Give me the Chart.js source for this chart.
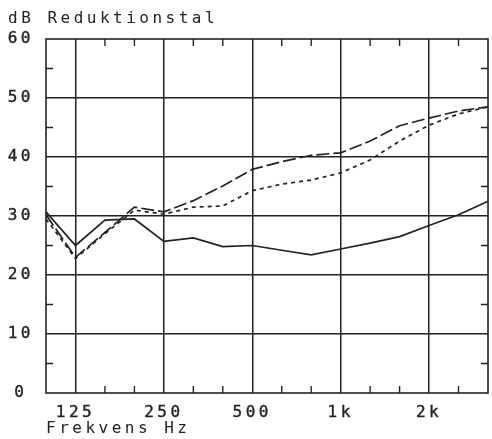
<!DOCTYPE html>
<html>
<head>
<meta charset="utf-8">
<script src="https://cdn.jsdelivr.net/npm/chart.js@4/dist/chart.umd.min.js"></script>
<style>
  html, body { margin: 0; padding: 0; background: #ffffff; }
  canvas { display: block; }
</style>
</head>
<body>
<canvas id="chart" width="492" height="439"></canvas>
<script>
// Third-octave band centre frequencies (Hz)
const bandHz = [100, 125, 160, 200, 250, 315, 400, 500, 630, 800, 1000, 1250, 1600, 2000, 2500, 3150];
// Octave bands that carry a label and a full grid line
const labelledHz = [125, 250, 500, 1000, 2000];
const tickLabels = ['125', '250', '500', '1k', '2k'];

// Sound reduction index, dB
const reductionSolid  = [30.7, 25.0, 29.3, 29.5, 25.7, 26.3, 24.8, 25.0, 24.2, 23.4, 24.4, 25.4, 26.5, 28.4, 30.2, 32.5];
const reductionDashed = [30.2, 23.0, 27.2, 31.5, 30.7, 32.6, 35.1, 37.9, 39.2, 40.3, 40.7, 42.7, 45.3, 46.6, 47.8, 48.5];
const reductionDotted = [29.5, 22.8, 27.0, 31.0, 30.3, 31.5, 31.7, 34.3, 35.4, 36.1, 37.3, 39.5, 42.7, 45.4, 47.3, 48.5];

const INK = '#222222';
const FONT = "'DejaVu Sans Mono', 'Liberation Mono', monospace";
const TRACK = '3.5px';

// Plotter-style wide lettering
const spacing = {
  id: 'spacing',
  beforeLayout(chart) { chart.ctx.letterSpacing = TRACK; },
  beforeDraw(chart) { chart.ctx.letterSpacing = TRACK; }
};

// Frame around the plot plus short inward ticks at every third-octave and every 5 dB
const frame = {
  id: 'frame',
  beforeDatasetsDraw(chart) {
    const { ctx, chartArea: a, scales: { x, y } } = chart;
    ctx.save();
    ctx.strokeStyle = INK;
    ctx.lineWidth = 1.6;
    ctx.strokeRect(a.left, a.top, a.right - a.left, a.bottom - a.top);
    ctx.lineWidth = 1.4;
    ctx.beginPath();
    bandHz.forEach((hz, i) => {
      if (labelledHz.includes(hz) || i === 0 || i === bandHz.length - 1) return;
      const px = x.getPixelForValue(i);
      ctx.moveTo(px, a.bottom); ctx.lineTo(px, a.bottom - 7);
      ctx.moveTo(px, a.top);    ctx.lineTo(px, a.top + 7);
    });
    for (let v = 5; v < 60; v += 10) {
      const py = y.getPixelForValue(v);
      ctx.moveTo(a.left, py);  ctx.lineTo(a.left + 7, py);
      ctx.moveTo(a.right, py); ctx.lineTo(a.right - 7, py);
    }
    ctx.stroke();
    ctx.restore();
  }
};

const line = (data, dash) => ({
  data,
  borderColor: INK,
  borderWidth: 1.7,
  borderDash: dash,
  pointRadius: 0,
  tension: 0,
  fill: false
});

new Chart(document.getElementById('chart'), {
  type: 'line',
  data: {
    labels: bandHz.map(String),
    datasets: [
      line(reductionSolid, []),
      line(reductionDashed, [13, 4]),
      line(reductionDotted, [4, 4])
    ]
  },
  options: {
    responsive: false,
    devicePixelRatio: 1,
    animation: false,
    layout: { padding: { left: 8, right: 4, top: 0, bottom: 0 } },
    plugins: {
      legend: { display: false },
      tooltip: { enabled: false },
      title: {
        display: true,
        text: 'dB Reduktionstal',
        align: 'start',
        color: INK,
        font: { family: FONT, size: 16, weight: 'normal', lineHeight: 1.25 },
        padding: { top: 9, bottom: 10 }
      }
    },
    scales: {
      x: {
        type: 'category',
        offset: false,
        afterFit(s) { s.height = 46; s.paddingLeft = 0; s.paddingRight = 0; },
        border: { display: false },
        grid: {
          offset: false,
          drawTicks: false,
          lineWidth: 1.5,
          color: c => {
            const hz = bandHz[c.index];
            return labelledHz.includes(hz) && c.index > 0 ? INK : 'rgba(0,0,0,0)';
          }
        },
        ticks: {
          autoSkip: false,
          maxRotation: 0,
          padding: 10,
          color: INK,
          textStrokeColor: INK,
          textStrokeWidth: 0.4,
          font: { family: FONT, size: 16 },
          callback(value, index) {
            const k = labelledHz.indexOf(bandHz[index]);
            return k >= 0 ? tickLabels[k] : '';
          }
        },
        title: {
          display: true,
          text: 'Frekvens Hz',
          align: 'start',
          color: INK,
          font: { family: FONT, size: 16, lineHeight: 1.2 },
          padding: { top: 0, bottom: 1 }
        }
      },
      y: {
        min: 0,
        max: 60,
        afterFit(s) { s.width = 38; },
        border: { display: false },
        grid: {
          drawTicks: false,
          lineWidth: 1.5,
          color: c => (c.tick.value > 0 && c.tick.value < 60 ? INK : 'rgba(0,0,0,0)')
        },
        ticks: {
          stepSize: 10,
          crossAlign: 'center',
          padding: 12,
          color: INK,
          textStrokeColor: INK,
          textStrokeWidth: 0.4,
          font: { family: FONT, size: 16 }
        }
      }
    }
  },
  plugins: [spacing, frame]
});
</script>
</body>
</html>
